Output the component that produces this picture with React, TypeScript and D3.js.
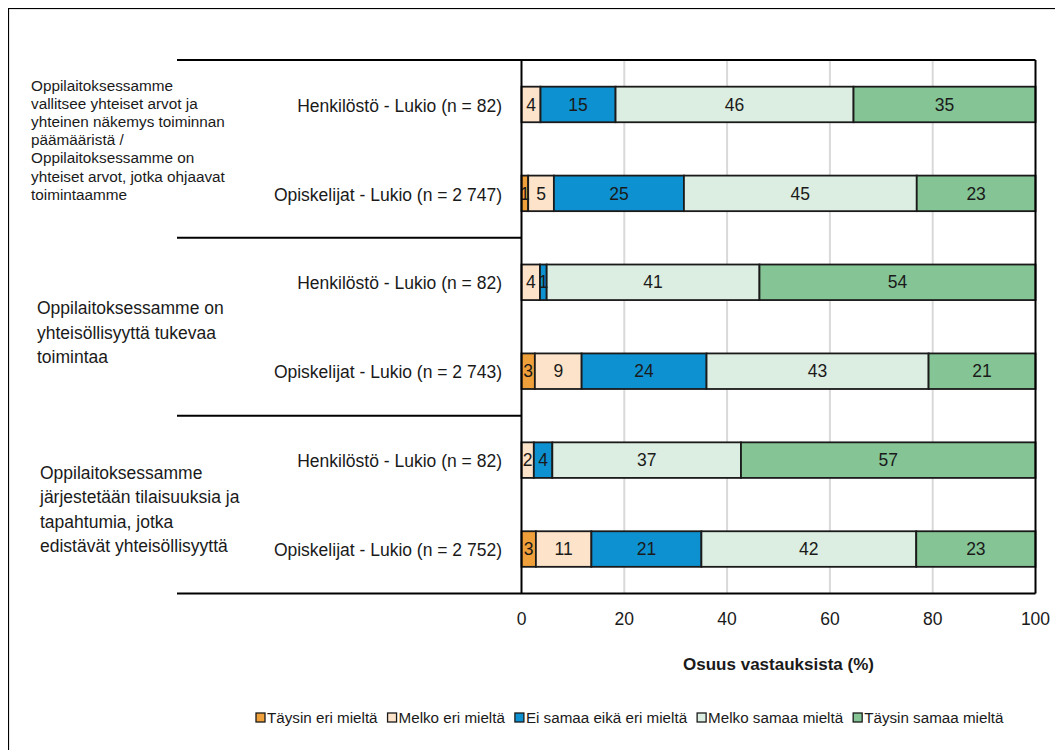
import React from "react";
import * as d3 from "d3";

// ---- data ----
const categories = [
  "Täysin eri mieltä",
  "Melko eri mieltä",
  "Ei samaa eikä eri mieltä",
  "Melko samaa mieltä",
  "Täysin samaa mieltä",
];

const rowLabels = [
  "Henkilöstö - Lukio (n = 82)",
  "Opiskelijat - Lukio (n = 2 747)",
  "Henkilöstö - Lukio (n = 82)",
  "Opiskelijat - Lukio (n = 2 743)",
  "Henkilöstö - Lukio (n = 82)",
  "Opiskelijat - Lukio (n = 2 752)",
];

// values per category, one entry per row (%)
const taysinEri = [0, 1.3, 0, 2.6, 0, 2.8];
const melkoEri = [3.7, 5.0, 3.6, 9.1, 2.4, 10.8];
const eiSamaaEikaEri = [14.6, 25.3, 1.3, 24.3, 3.6, 21.4];
const melkoSamaa = [46.3, 45.3, 41.4, 43.2, 36.7, 41.8];
const taysinSamaa = [35.4, 23.1, 53.7, 20.8, 57.3, 23.2];

const groupLabels = [
  [
    "Oppilaitoksessamme",
    "vallitsee yhteiset arvot ja",
    "yhteinen näkemys toiminnan",
    "päämääristä /",
    "Oppilaitoksessamme on",
    "yhteiset arvot, jotka ohjaavat",
    "toimintaamme",
  ],
  ["Oppilaitoksessamme on", "yhteisöllisyyttä tukevaa", "toimintaa"],
  [
    "Oppilaitoksessamme",
    "järjestetään tilaisuuksia ja",
    "tapahtumia, jotka",
    "edistävät yhteisöllisyyttä",
  ],
];

const xTicks = [0, 20, 40, 60, 80, 100];
const axisTitle = "Osuus vastauksista (%)";

// ---- styles ----
const colors = ["#F0A03A", "#FCE3C9", "#0E91D1", "#DCEEE1", "#85C595"];
const FONT = "'Liberation Sans', Arial, sans-serif";
const groupStyles = [
  { x: 31, fontSize: 15.3, lineH: 18.2, dy: -9 },
  { x: 37, fontSize: 17.5, lineH: 24.5, dy: 6 },
  { x: 40, fontSize: 17.5, lineH: 24.5, dy: 5 },
];

const W = 1063;
const H = 750;
const OFF = 8; // body margin offset (coordinates measured in page pixels)
const left = 521.5;
const right = 1035.5;
const top = 60;
const bottom = 593.5;
const sepLeft = 177;

export default function App() {
  const series = [taysinEri, melkoEri, eiSamaaEikaEri, melkoSamaa, taysinSamaa];
  const rows = rowLabels.map((_, i) => i);
  const table = rows.map((i) => {
    const o: any = { row: i };
    categories.forEach((c, k) => (o[c] = series[k][i]));
    return o;
  });
  const stacked = d3.stack().keys(categories)(table);

  const x = d3.scaleLinear().domain([0, 100]).range([left, right]);
  const y = d3
    .scaleBand<number>()
    .domain(rows)
    .range([top, bottom])
    .paddingInner(0.6)
    .paddingOuter(0.3);
  const step = y.step();
  const bw = y.bandwidth();

  // legend layout via text measurement
  const canvas = typeof document !== "undefined" ? document.createElement("canvas") : null;
  const ctx = canvas ? canvas.getContext("2d") : null;
  const legendFont = 15.2;
  if (ctx) ctx.font = `${legendFont}px 'Liberation Sans', Arial, sans-serif`;
  let lx = 256;
  const legendItems = categories.map((c, k) => {
    const w = ctx ? ctx.measureText(c).width : c.length * 7.5;
    const item = { c, k, x: lx };
    lx += 9 + 2 + w + 10;
    return item;
  });
  const legendY = 718;

  const groups = groupLabels.map((_, g) => {
    const y0 = (y(g * 2) as number) - (step - bw) / 2;
    return { g, y0, y1: y0 + step * 2 };
  });

  return (
    <svg width={W - OFF} height={H - OFF} style={{ display: "block" }} fontFamily={FONT}>
      <rect x={0} y={0} width={W} height={H} fill="#fff" />
      <rect x={0.5} y={0.5} width={W + 20} height={H + 20} fill="none" stroke="#000" strokeWidth={1.2} />
      <g transform={`translate(${-OFF},${-OFF})`}>
        {/* gridlines */}
        {xTicks
          .filter((t) => t > 0 && t < 100)
          .map((t) => (
            <line key={t} x1={x(t)} x2={x(t)} y1={top} y2={bottom} stroke="#D9D9D9" strokeWidth={2} />
          ))}

        {/* bars */}
        {stacked.map((s, k) =>
          s.map((d, i) => {
            const v = d[1] - d[0];
            if (v <= 0) return null;
            return (
              <rect
                key={`${k}-${i}`}
                x={x(d[0])}
                y={y(i)}
                width={x(d[1]) - x(d[0])}
                height={bw}
                fill={colors[k]}
                stroke="#1a1a1a"
                strokeWidth={1.8}
              />
            );
          })
        )}
        {/* bar value labels */}
        {stacked.map((s, k) =>
          s.map((d, i) => {
            const v = d[1] - d[0];
            if (v <= 0) return null;
            return (
              <text
                key={`t${k}-${i}`}
                x={x((d[0] + d[1]) / 2)}
                y={(y(i) as number) + bw / 2}
                dy="0.35em"
                textAnchor="middle"
                fontSize={17.5}
                fill="#1a1a1a"
              >
                {Math.round(v)}
              </text>
            );
          })
        )}

        {/* frame lines */}
        <line x1={sepLeft} x2={right} y1={top} y2={top} stroke="#000" strokeWidth={2} />
        <line x1={sepLeft} x2={right} y1={bottom} y2={bottom} stroke="#000" strokeWidth={2} />
        <line x1={left} x2={left} y1={top} y2={bottom} stroke="#000" strokeWidth={2} />
        <line x1={right} x2={right} y1={top} y2={bottom} stroke="#000" strokeWidth={2} />
        {groups.slice(1).map((g) => (
          <line key={g.g} x1={sepLeft} x2={left} y1={g.y0} y2={g.y0} stroke="#000" strokeWidth={2} />
        ))}

        {/* row labels */}
        {rowLabels.map((l, i) => (
          <text
            key={i}
            x={502}
            y={(y(i) as number) + bw / 2 + 1}
            dy="0.35em"
            textAnchor="end"
            fontSize={17.5}
            fill="#1a1a1a"
          >
            {l}
          </text>
        ))}

        {/* group labels */}
        {groups.map(({ g, y0, y1 }) => {
          const st = groupStyles[g];
          const lines = groupLabels[g];
          const c = (y0 + y1) / 2;
          const first = c - ((lines.length - 1) * st.lineH) / 2 + st.dy;
          return (
            <text key={g} fontSize={st.fontSize} fill="#1a1a1a">
              {lines.map((ln, j) => (
                <tspan key={j} x={st.x} y={first + j * st.lineH} dy="0.35em">
                  {ln}
                </tspan>
              ))}
            </text>
          );
        })}

        {/* x ticks */}
        {xTicks.map((t) => (
          <text key={t} x={x(t)} y={619} dy="0.35em" textAnchor="middle" fontSize={17.5} fill="#1a1a1a">
            {t}
          </text>
        ))}
        <text
          x={(left + right) / 2}
          y={664}
          dy="0.35em"
          textAnchor="middle"
          fontSize={17}
          fontWeight="bold"
          fill="#1a1a1a"
        >
          {axisTitle}
        </text>

        {/* legend */}
        {legendItems.map((it) => (
          <g key={it.k}>
            <rect
              x={it.x}
              y={legendY - 5}
              width={9}
              height={9}
              fill={colors[it.k]}
              stroke="#1a1a1a"
              strokeWidth={1.3}
            />
            <text x={it.x + 11} y={legendY} dy="0.35em" fontSize={legendFont} fill="#1a1a1a">
              {it.c}
            </text>
          </g>
        ))}
      </g>
    </svg>
  );
}
